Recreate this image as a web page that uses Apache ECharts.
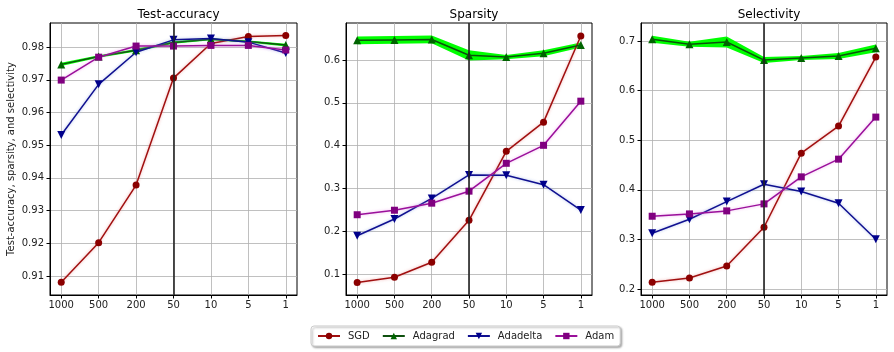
<!DOCTYPE html>
<html>
<head>
<meta charset="utf-8">
<script src="https://cdn.jsdelivr.net/npm/echarts@6/dist/echarts.min.js"></script>
<style>
html, body { margin: 0; padding: 0; background: #fff; }
#chart { width: 894px; height: 352px; }
</style>
</head>
<body>
<div id="chart"></div>
<script>
// batch sizes on the x axis
var batchSizes = ['1000', '500', '200', '50', '10', '5', '1'];

// Test-accuracy
var accSGD      = [0.9081, 0.9202, 0.9378, 0.9705, 0.9811, 0.9832, 0.9835];
var accAdagrad  = [0.9747, 0.9771, 0.9790, 0.9814, 0.9824, 0.9817, 0.9806];
var accAdadelta = [0.9531, 0.9686, 0.9784, 0.9822, 0.9826, 0.9815, 0.9782];
var accAdam     = [0.9699, 0.9769, 0.9803, 0.9803, 0.9805, 0.9805, 0.9791];
var accBand     = [0.0005, 0.0004, 0.0004, 0.0004, 0.0003, 0.0003, 0.0004];
var accTicks    = [0.91, 0.92, 0.93, 0.94, 0.95, 0.96, 0.97, 0.98];

// Sparsity
var spaSGD      = [0.081, 0.093, 0.128, 0.226, 0.387, 0.455, 0.656];
var spaAdagrad  = [0.646, 0.647, 0.648, 0.611, 0.607, 0.616, 0.635];
var spaAdadelta = [0.190, 0.229, 0.277, 0.332, 0.331, 0.309, 0.250];
var spaAdam     = [0.239, 0.2495, 0.266, 0.294, 0.359, 0.401, 0.504];
var spaBand     = [0.009, 0.009, 0.009, 0.012, 0.005, 0.007, 0.006];
var spaTicks    = [0.1, 0.2, 0.3, 0.4, 0.5, 0.6];

// Selectivity
var selSGD      = [0.2135, 0.222, 0.2464, 0.3245, 0.4739, 0.5284, 0.6677];
var selAdagrad  = [0.7034, 0.6933, 0.698, 0.6616, 0.6657, 0.6697, 0.6852];
var selAdadelta = [0.3124, 0.3406, 0.3763, 0.4113, 0.3965, 0.3729, 0.3003];
var selAdam     = [0.3467, 0.3514, 0.3575, 0.3716, 0.4261, 0.4618, 0.5466];
var selBand     = [0.007, 0.005, 0.011, 0.006, 0.004, 0.006, 0.008];
var selTicks    = [0.2, 0.3, 0.4, 0.5, 0.6, 0.7];

var font = 'DejaVu Sans';
var xIdx = batchSizes.map(function (b, i) { return i; });

var panels = [
  { title: 'Test-accuracy', left: 50, width: 247, min: 0.9042, max: 0.98735, ticks: accTicks, dec: 2,
    sgd: accSGD, adagrad: accAdagrad, adadelta: accAdadelta, adam: accAdam, band: accBand },
  { title: 'Sparsity', left: 346, width: 246, min: 0.0517, max: 0.6864, ticks: spaTicks, dec: 1,
    sgd: spaSGD, adagrad: spaAdagrad, adadelta: spaAdadelta, adam: spaAdam, band: spaBand },
  { title: 'Selectivity', left: 641, width: 246, min: 0.1879, max: 0.7363, ticks: selTicks, dec: 1,
    sgd: selSGD, adagrad: selAdagrad, adadelta: selAdadelta, adam: selAdam, band: selBand }
];

var styles = {
  SGD:      { line: '#a01010', mark: '#8b0000', symbol: 'circle', size: 7, rot: 0, halo: 'rgba(230,120,120,0.6)' },
  Adagrad:  { line: '#0e500e', mark: '#006400', symbol: 'triangle', size: 8, rot: 0, halo: 'rgba(0,0,0,0)' },
  Adadelta: { line: '#101090', mark: '#00008b', symbol: 'triangle', size: 8, rot: 180, halo: 'rgba(120,150,220,0.6)' },
  Adam:     { line: '#9a109a', mark: '#800080', symbol: 'rect', size: 7, rot: 0, halo: 'rgba(230,120,230,0.6)' }
};

function pairs(arr) {
  return arr.map(function (v, i) { return [i, v]; });
}

var grids = [], xAxes = [], yAxes = [], titles = [], series = [];

panels.forEach(function (p, k) {
  grids.push({ left: p.left, top: 23, width: p.width, height: 272,
    show: true, borderColor: '#000', borderWidth: 1, backgroundColor: 'transparent' });
  titles.push({ text: p.title, left: p.left + p.width / 2, top: 4, textAlign: 'center',
    textStyle: { fontFamily: font, fontSize: 12, fontWeight: 'normal', color: '#000' } });
  xAxes.push({
    gridIndex: k, type: 'value', min: -0.3, max: 6.3,
    axisLine: { show: true, onZero: false, lineStyle: { color: '#000', width: 1 } },
    axisTick: { show: true, length: 3.5, customValues: xIdx, lineStyle: { color: '#000' } },
    axisLabel: { customValues: xIdx, margin: 5, fontFamily: font, fontSize: 10, color: '#222',
      formatter: function (v) { return batchSizes[Math.round(v)]; } },
    splitLine: { show: true, lineStyle: { color: '#b0b0b0', width: 0.8 } }
  });
  yAxes.push({
    gridIndex: k, type: 'value', min: p.min, max: p.max,
    name: k === 0 ? 'Test-accuracy, sparsity, and selectivity' : '',
    nameLocation: 'middle', nameGap: 34,
    nameTextStyle: { fontFamily: font, fontSize: 10, color: '#222' },
    axisLine: { show: true, onZero: false, lineStyle: { color: '#000', width: 1 } },
    axisTick: { show: true, length: 3.5, customValues: p.ticks, lineStyle: { color: '#000' } },
    axisLabel: { customValues: p.ticks, margin: 6, fontFamily: font, fontSize: 10, color: '#222',
      formatter: function (v) { return v.toFixed(p.dec); } },
    splitLine: { show: true, lineStyle: { color: '#b0b0b0', width: 0.8 } }
  });

  // green band around Adagrad
  series.push({
    name: 'band' + k, type: 'custom', xAxisIndex: k, yAxisIndex: k, z: 1, silent: true,
    data: pairs(p.adagrad),
    renderItem: function (params, api) {
      if (params.dataIndex !== 0) return;
      var pts = [];
      p.adagrad.forEach(function (v, i) { pts.push(api.coord([i, v + p.band[i]])); });
      for (var i = p.adagrad.length - 1; i >= 0; i--) {
        pts.push(api.coord([i, p.adagrad[i] - p.band[i]]));
      }
      return { type: 'polygon', shape: { points: pts }, style: { fill: '#00ff00' } };
    },
    markLine: {
      silent: true, symbol: ['none', 'none'], label: { show: false },
      lineStyle: { color: '#222', width: 1.6, type: 'solid' },
      data: [{ xAxis: 3 }]
    }
  });

  [['SGD', p.sgd], ['Adagrad', p.adagrad], ['Adadelta', p.adadelta], ['Adam', p.adam]].forEach(function (s) {
    var st = styles[s[0]];
    series.push({
      name: s[0], type: 'line', xAxisIndex: k, yAxisIndex: k, z: 3,
      data: pairs(s[1]),
      symbol: st.symbol, symbolSize: st.size, symbolRotate: st.rot, showAllSymbol: true,
      lineStyle: { color: st.line, width: 1.5, shadowColor: st.halo, shadowBlur: 3 },
      itemStyle: { color: st.mark },
      emphasis: { disabled: true }
    });
  });
});

var chart = echarts.init(document.getElementById('chart'), null, { renderer: 'canvas' });
chart.setOption({
  animation: false,
  backgroundColor: '#fff',
  title: titles,
  grid: grids,
  xAxis: xAxes,
  yAxis: yAxes,
  legend: {
    data: ['SGD', 'Adagrad', 'Adadelta', 'Adam'],
    left: 311, top: 326,
    padding: [5, 6, 5, 6],
    itemWidth: 22, itemHeight: 8, itemGap: 12,
    borderColor: '#ccc', borderWidth: 1, borderRadius: 3,
    backgroundColor: '#fff',
    shadowColor: 'rgba(0,0,0,0.3)', shadowBlur: 2, shadowOffsetX: 1.5, shadowOffsetY: 1.5,
    textStyle: { fontFamily: font, fontSize: 10, color: '#222', padding: [0, 0, 0, 3] }
  },
  series: series
});
</script>
</body>
</html>
